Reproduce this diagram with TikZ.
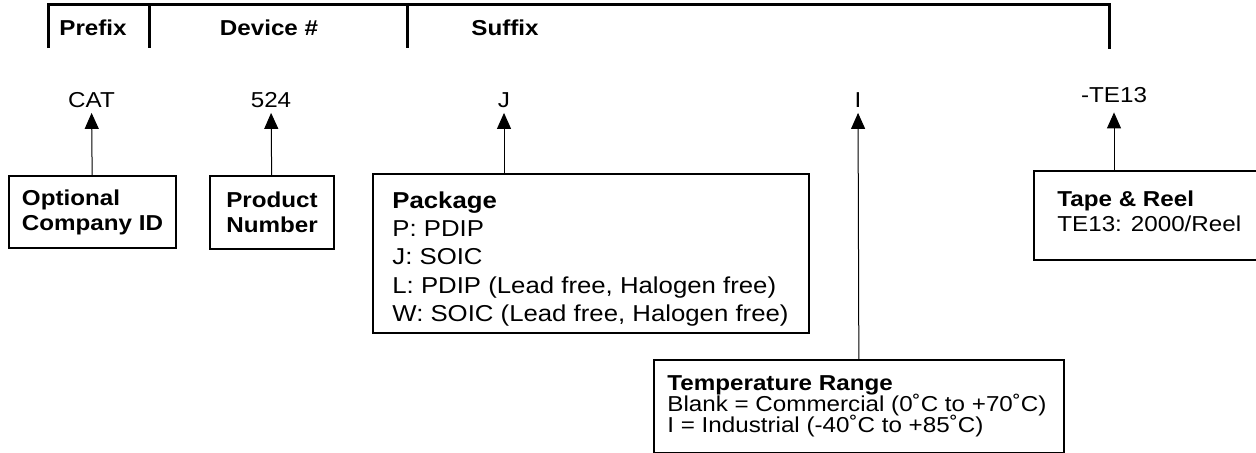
\documentclass[tikz,border=0pt]{standalone}
\usepackage{fontspec}
\setmainfont{Liberation Sans}[FakeStretch=1.12]
\usetikzlibrary{arrows.meta}

\begin{document}
\begin{tikzpicture}[x=0.5pt,y=-0.5pt,every node/.style={inner sep=0pt},
	code/.style={anchor=base,text depth=2.75pt,font=\fontsize{10.8}{13}\selectfont},
	head/.style={anchor=base,font=\bfseries\fontsize{10.8}{13}\selectfont},
	box/.style={draw=black,line width=1pt,anchor=north west,align=left,font=\fontsize{10.8}{12.5}\selectfont},
	boxtext/.style={anchor=north west,align=left,font=\fontsize{10.8}{12.5}\selectfont\setlength{\lineskiplimit}{-5pt}},
	arr/.style={line width=0.5pt,-{Triangle[length=8pt,width=7pt]}}]
			\useasboundingbox (0,0) rectangle (1256,452);
			\clip (0,0) rectangle (1256,452);

			%header
			\draw[line width=1.5pt] (48,48) |- (1109,4) -- (1109,49);
			\draw[line width=1.5pt] (149,4) -- (149,48) (407,4) -- (407,48);
			\node [head] (h1) at (93,35) {Prefix};
			\node [head] (h2) at (269,35) {Device \#};
			\node [head] (h3) at (505,35) {Suffix};

			%codes
			\node [code] (c1) at (91.5,107) {CAT};
			\node [code] (c2) at (271,107) {524};
			\node [code] (c3) at (504,107) {J};
			\node [code] (c4) at (858,107) {I};
			\node [code,text depth=5pt] (c5) at (1114,102) {-TE13};

			%boxes
			\node [box,font=\bfseries\fontsize{10.8}{12.5}\selectfont,minimum width=83.5pt,minimum height=36pt] (b1) at (8,175) {Optional\\Company ID};
			\node [box,align=center,font=\bfseries\fontsize{10.8}{12.5}\selectfont,minimum width=62pt,minimum height=36.5pt] (b2) at (209,175) {Product\\Number};
			\node [box,minimum width=218pt,minimum height=79.5pt] (b3) at (372,173) {};
			\node [boxtext,font=\fontsize{11.5}{14.2}\selectfont] (t3) at (392,191) {\textbf{Package}\\P: PDIP\\J: SOIC\\L: PDIP (Lead free, Halogen free)\\W: SOIC (Lead free, Halogen free)};
			\node [box,minimum width=205pt,minimum height=46.5pt] (b4) at (653,359) {};
			\node [boxtext,font=\fontsize{10.8}{10.5}\selectfont\setlength{\lineskiplimit}{-5pt}] (t4) at (667,375) {\textbf{Temperature Range}\\Blank = Commercial (0˚C to +70˚C)\\I = Industrial (-40˚C to +85˚C)};
			\node [box,minimum width=115pt,minimum height=44.5pt] (b5) at (1033,170) {};
			\node [boxtext] (t5) at (1057,190) {\textbf{Tape \& Reel}\\TE13: 2000/Reel};

			%arrows
			\draw[arr] (b1) -- (c1);
			\draw[arr] (b2) -- (c2);
			\draw[arr] (b3.north -| c3) -- (c3);
			\draw[arr] (b4) -- (c4);
			\draw[arr] (b5.north -| c5) -- (c5);
		\end{tikzpicture}
\end{document}
